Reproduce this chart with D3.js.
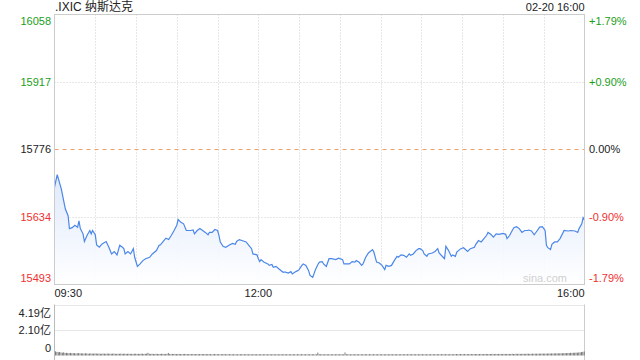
<!DOCTYPE html>
<html><head><meta charset="utf-8">
<script src="https://cdn.jsdelivr.net/npm/d3@7"></script>
<style>html,body{margin:0;padding:0;background:#fff;}svg{display:block;font-family:Arial,"Liberation Sans","Noto Sans CJK SC",sans-serif;}</style>
</head><body><svg id="c" width="640" height="360"></svg>
<script>
const title = ".IXIC 纳斯达克";
const stamp = "02-20 16:00";
const prevClose = 15776;
const priceTicks = [16058, 15917, 15776, 15634, 15493];
const pctTicks = ["+1.79%", "+0.90%", "0.00%", "-0.90%", "-1.79%"];
const timeLabels = [["09:30", 0], ["12:00", 150], ["16:00", 390]];
const volTicks = [[4.19, "4.19亿"], [2.10, "2.10亿"], [0, "0"]];
const minutes = [0,2,5,8,10,11,13,15,17,18,19,21,22,24,26,27,28,30,31,33,35,38,40,42,44,46,48,50,51,52,54,56,58,59,61,63,65,67,70,72,75,77,78,80,82,84,86,88,90,91,93,95,97,100,102,103,105,107,109,111,113,114,116,118,120,121,122,124,126,129,131,133,134,136,139,141,143,145,146,149,150,151,152,154,157,158,160,161,163,165,168,170,172,174,175,177,179,180,182,183,185,187,188,190,192,194,195,197,198,200,202,204,207,209,212,213,217,219,221,222,224,226,227,229,231,234,235,237,239,241,243,244,246,248,250,252,253,255,257,259,261,262,264,266,268,269,271,272,274,275,278,280,282,283,286,287,288,290,292,293,295,296,299,301,304,306,309,310,312,314,316,318,319,321,323,325,327,330,332,333,335,336,338,340,342,344,346,348,349,351,353,355,357,359,361,362,363,365,366,368,370,372,375,378,380,383,385,386,388,389,390];
const prices = [15697,15723,15693,15651,15637,15610,15612,15617,15613,15626,15610,15599,15583,15596,15606,15599,15606,15597,15576,15571,15578,15583,15571,15557,15562,15555,15575,15571,15568,15557,15562,15557,15568,15550,15531,15536,15543,15547,15550,15557,15564,15575,15576,15583,15590,15587,15596,15606,15617,15629,15623,15620,15606,15606,15607,15599,15606,15610,15606,15602,15597,15602,15602,15608,15606,15596,15582,15573,15571,15576,15579,15577,15583,15587,15584,15582,15575,15568,15557,15555,15547,15541,15545,15540,15536,15533,15535,15529,15531,15526,15519,15519,15517,15520,15515,15519,15522,15524,15533,15536,15533,15522,15512,15508,15524,15536,15540,15541,15536,15531,15547,15547,15545,15548,15545,15536,15536,15541,15540,15543,15540,15533,15536,15550,15559,15566,15561,15540,15538,15533,15524,15533,15531,15533,15543,15552,15550,15555,15554,15550,15557,15554,15557,15564,15568,15568,15564,15557,15552,15557,15559,15562,15568,15559,15550,15547,15573,15564,15552,15555,15552,15561,15568,15570,15562,15568,15571,15577,15585,15582,15589,15596,15602,15598,15592,15599,15598,15600,15598,15589,15596,15602,15612,15614,15610,15602,15606,15606,15607,15605,15597,15605,15613,15614,15606,15575,15570,15566,15577,15582,15582,15589,15606,15605,15606,15605,15602,15610,15620,15633,15628];
// volume per minute, unit: 0.01亿
const volumes = [
34,30,27,29,25,23,26,21,22,20, 19,21,18,20,19,17,18,20,17,18, 17,16,18,17,15,16,17,16,15,17,
16,15,16,14,15,16,15,14,16,15, 15,14,15,16,14,13,15,14,15,14, 14,15,13,14,15,13,14,13,14,15,
13,14,13,15,14,13,14,15,22,14, 13,14,13,12,14,13,12,13,14,13, 13,12,14,21,13,12,13,12,13,12,
12,13,12,11,12,13,12,11,12,12, 11,12,12,11,12,11,12,11,12,11, 12,11,11,12,11,10,11,12,11,11,
11,10,11,11,12,11,10,11,11,10, 11,10,11,10,11,10,11,11,10,11, 10,11,10,11,10,10,11,10,11,10,
10,11,10,10,11,10,10,11,10,10, 11,10,10,11,10,10,11,10,10,11, 10,10,11,10,10,11,10,10,11,10,
10,11,10,10,11,10,10,11,10,10, 11,10,10,24,12,10,11,10,10,11, 10,11,10,10,11,10,10,11,10,10,
11,10,10,25,11,10,11,10,10,11, 10,10,11,10,10,11,10,10,11,10, 10,11,10,10,11,10,10,11,10,10,
11,10,10,11,10,10,11,10,10,11, 10,11,10,10,11,10,10,11,10,11, 10,11,10,11,10,11,10,11,10,11,
11,10,11,10,11,10,11,10,11,11, 10,11,11,10,11,11,10,11,11,10, 11,11,10,11,11,12,11,11,12,11,
11,12,11,11,12,11,12,11,12,12, 12,11,12,12,11,12,12,13,12,12, 12,13,12,12,13,12,13,12,13,12,
13,12,13,13,12,13,14,13,13,14, 13,14,13,14,14,13,14,15,14,14, 14,15,14,15,15,14,16,15,16,15,
16,15,16,17,16,17,16,18,17,18, 18,17,19,18,19,20,19,21,20,22, 21,23,22,24,23,25,26,28,30,33];

const svg = d3.select("#c");
const L = 54.5, R = 584.5, T = 14.5, B = 284.5;
const VT = 304.5, VB = 355.5;
const green = "#1a9e1a", red = "#f23030", dark = "#222";
const x = d3.scaleLinear().domain([0, 390]).range([L, R]);
const y = d3.scaleLinear().domain([priceTicks[4], priceTicks[0]]).range([B, T]);
const vy = d3.scaleLinear().domain([0, 4.19]).range([VB, VT]);

// vertical grid
const halfHours = d3.range(30, 390, 30);
svg.append("g").selectAll("line").data(halfHours).join("line")
  .attr("x1", d => Math.round(x(d)) + 0.5).attr("x2", d => Math.round(x(d)) + 0.5)
  .attr("y1", T).attr("y2", B).attr("stroke", "#cfcfcf").attr("stroke-dasharray", "1,2");
svg.append("g").selectAll("line").data(halfHours).join("line")
  .attr("x1", d => Math.round(x(d)) + 0.5).attr("x2", d => Math.round(x(d)) + 0.5)
  .attr("y1", VT).attr("y2", VB).attr("stroke", "#e6e6e6").attr("stroke-dasharray", "1,2").attr("opacity", 0);

// horizontal grid
svg.append("g").selectAll("line").data(priceTicks.slice(1, 4)).join("line")
  .attr("x1", L).attr("x2", R)
  .attr("y1", d => Math.round(y(d)) + 0.5).attr("y2", d => Math.round(y(d)) + 0.5)
  .attr("stroke", d => d === prevClose ? "#f0a070" : "#cfcfcf")
  .attr("stroke-dasharray", d => d === prevClose ? "4,4" : "1,2");

// area + line
const pts = minutes.map((m, i) => [m, prices[i]]);
const defs = svg.append("defs");
const grad = defs.append("linearGradient").attr("id", "g").attr("x1", 0).attr("y1", 0).attr("x2", 0).attr("y2", 1);
grad.append("stop").attr("offset", "0%").attr("stop-color", "#dbe7fb");
grad.append("stop").attr("offset", "100%").attr("stop-color", "#ffffff");
svg.append("path").datum(pts)
  .attr("d", d3.area().x(d => x(d[0])).y0(B).y1(d => y(d[1])))
  .attr("fill", "url(#g)").attr("opacity", 0.9);
svg.append("path").datum(pts)
  .attr("d", d3.line().x(d => x(d[0])).y(d => y(d[1])))
  .attr("fill", "none").attr("stroke", "#4b87e8").attr("stroke-width", 1.2);

// frame
svg.append("rect").attr("x", L).attr("y", T).attr("width", R - L).attr("height", B - T)
  .attr("fill", "none").attr("stroke", "#cccccc");

// watermark
svg.append("text").attr("x", 545).attr("y", 282).attr("text-anchor", "middle")
  .attr("font-size", 11).attr("fill", "#d0d0d0").text("sina.com");

// left / right labels
const colorOf = i => i < 2 ? green : (i === 2 ? dark : red);
svg.append("g").selectAll("text").data(priceTicks).join("text")
  .attr("x", 51).attr("text-anchor", "end").attr("font-size", 11)
  .attr("y", (d, i) => i === 0 ? y(d) + 10 : (i === 4 ? y(d) - 3 : y(d) + 4))
  .attr("fill", (d, i) => colorOf(i)).text(d => d);
svg.append("g").selectAll("text").data(pctTicks).join("text")
  .attr("x", 589).attr("text-anchor", "start").attr("font-size", 11)
  .attr("y", (d, i) => i === 0 ? y(priceTicks[i]) + 10 : (i === 4 ? y(priceTicks[i]) - 3 : y(priceTicks[i]) + 4))
  .attr("fill", (d, i) => colorOf(i)).text(d => d);

// title & stamp
svg.append("text").attr("x", 55).attr("y", 11).attr("font-size", 12).attr("fill", dark).text(title);
svg.append("text").attr("x", R).attr("y", 11).attr("text-anchor", "end").attr("font-size", 11).attr("fill", dark).text(stamp);

// time labels
svg.append("g").selectAll("text").data(timeLabels).join("text")
  .attr("x", d => x(d[1])).attr("y", 297).attr("font-size", 11).attr("fill", dark)
  .attr("text-anchor", (d, i) => i === 0 ? "start" : (i === timeLabels.length - 1 ? "end" : "middle"))
  .text(d => d[0]);

// volume panel
svg.append("g").selectAll("line").data([4.19, 2.10]).join("line")
  .attr("x1", L).attr("x2", R).attr("y1", d => Math.round(vy(d)) + 0.5).attr("y2", d => Math.round(vy(d)) + 0.5)
  .attr("stroke", "#cfcfcf").attr("stroke-dasharray", "1,1");
svg.append("line").attr("x1", L).attr("x2", L).attr("y1", VT).attr("y2", 360).attr("stroke", "#bbbbbb");
svg.append("line").attr("x1", R).attr("x2", R).attr("y1", VT).attr("y2", 360).attr("stroke", "#cccccc");
const bw = (R - L) / 390;
svg.append("g").selectAll("rect").data(volumes).join("rect")
  .attr("x", (d, i) => x(i) + 0.6).attr("width", Math.max(0.8, bw - 0.5))
  .attr("y", d => vy(d / 100)).attr("height", d => VB - vy(d / 100))
  .attr("fill", "#666");
svg.append("g").selectAll("text").data(volTicks).join("text")
  .attr("x", 51).attr("text-anchor", "end").attr("font-size", 11).attr("fill", dark)
  .attr("y", (d, i) => i === 0 ? vy(d[0]) + 12 : (i === 2 ? vy(d[0]) - 4 : vy(d[0]) + 4))
  .text(d => d[1]);
</script></body></html>
